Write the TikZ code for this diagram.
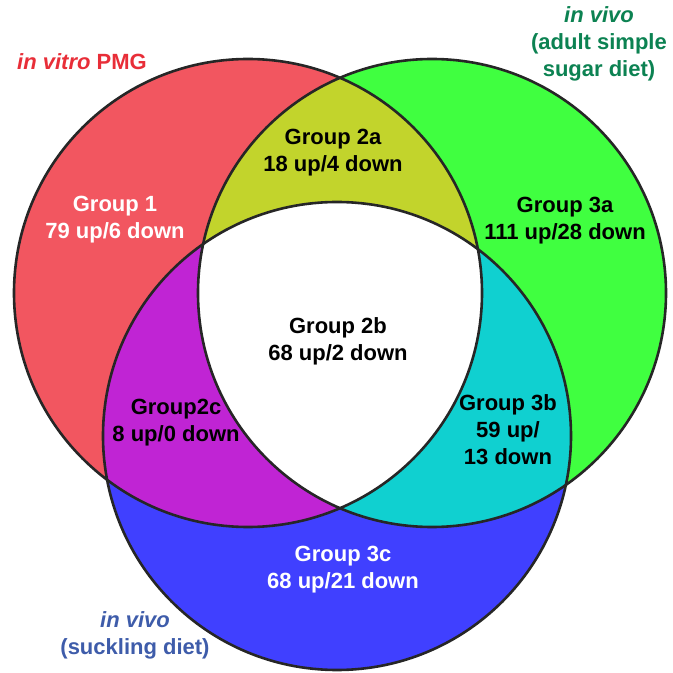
\documentclass[tikz,border=0pt]{standalone}
\usepackage{fontspec}
\setmainfont{Liberation Sans}
\usepackage{xcolor}
\usetikzlibrary{positioning}
\definecolor{pmgred}{RGB}{242,86,96}
\definecolor{sugargreen}{RGB}{64,255,64}
\definecolor{sucklingblue}{RGB}{64,64,255}
\definecolor{olivemix}{RGB}{194,212,44}
\definecolor{purplemix}{RGB}{192,36,212}
\definecolor{cyanmix}{RGB}{16,208,208}
\definecolor{pmglabel}{RGB}{232,46,56}
\definecolor{sugarlabel}{RGB}{12,130,82}
\definecolor{sucklinglabel}{RGB}{62,92,170}
\newcommand{\rad}{234pt}

\begin{document}
\begin{tikzpicture}[x=1pt, y=1pt,
  grp/.style={font=\fontsize{22}{27}\selectfont\bfseries, align=center,
              inner sep=0pt},
  src/.style={font=\fontsize{22}{27}\selectfont\bfseries, align=center,
              inner sep=0pt},
  ring/.style={line width=2.6pt, draw=black!85}]
\useasboundingbox (0,0) rectangle (673,673);
\coordinate (pmg) at (248,380);
\coordinate (sugar) at (432,380);
\coordinate (suckling) at (337,237);
% single circles
\fill[pmgred] (pmg) circle (\rad);
\fill[sugargreen] (sugar) circle (\rad);
\fill[sucklingblue] (suckling) circle (\rad);
% pairwise overlaps
\begin{scope}
  \clip (pmg) circle (\rad);
  \fill[olivemix] (sugar) circle (\rad);
  \fill[purplemix] (suckling) circle (\rad);
\end{scope}
\begin{scope}
  \clip (sugar) circle (\rad);
  \fill[cyanmix] (suckling) circle (\rad);
  \clip (suckling) circle (\rad);
  \fill[white] (pmg) circle (\rad);
\end{scope}
% outlines
\draw[ring] (pmg) circle (\rad);
\draw[ring] (sugar) circle (\rad);
\draw[ring] (suckling) circle (\rad);
% groups
\node[grp, white] (g1) at (115,453) {Group 1\\79 up/6 down};
\node[grp] (g2a) at (333,520) {Group 2a\\18 up/4 down};
\node[grp] (g3a) at (565,452) {Group 3a\\111 up/28 down};
\node[grp] (g2b) at (338,332) {Group 2b\\68 up/2 down};
\node[grp] (g2c) at (176,250) {Group2c\\8 up/0 down};
\node[grp] (g3b) at (508,243) {Group 3b\\59 up/\\13 down};
\node[grp, white] (g3c) at (343,103) {Group 3c\\68 up/21 down};
% sources
\node[src, pmglabel] (vitro) at (82,611) {\textit{in vitro} PMG};
\node[src, sugarlabel] (adult) at (599,629)
  {\textit{in vivo}\\(adult simple\\sugar diet)};
\node[src, sucklinglabel] (suck) at (135,38)
  {\textit{in vivo}\\(suckling diet)};
\end{tikzpicture}
\end{document}
